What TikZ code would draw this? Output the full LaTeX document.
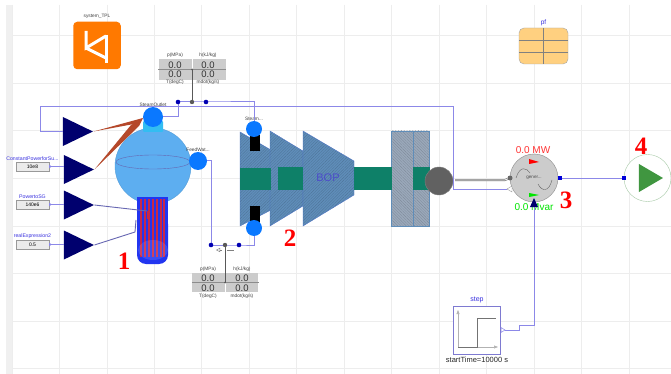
\documentclass[tikz,border=0pt]{standalone}
\usepackage{fontspec}
\setmainfont{Liberation Sans}
\newfontfamily\numfont{Liberation Serif}
\usepackage{xcolor}
\usetikzlibrary{arrows.meta, positioning, shapes.geometric, patterns.meta}
\definecolor{wirecol}{HTML}{8C88E8}
\definecolor{navycol}{HTML}{00006E}
\definecolor{portcol}{HTML}{0A78FF}
\definecolor{gridcol}{HTML}{EDEDED}
\definecolor{bladecol}{HTML}{5F8DB9}
\definecolor{shaftcol}{HTML}{0E8068}
\definecolor{corecol}{HTML}{2235F0}
\definecolor{rodcol}{HTML}{C82848}
\definecolor{steelcol}{HTML}{9AA8BA}
\definecolor{brickcol}{HTML}{B5482A}
\definecolor{labelcol}{HTML}{3A32E0}
\definecolor{drumcol}{HTML}{5DAEF0}
\definecolor{pfcol}{HTML}{FFD080}

\begin{document}
\begin{tikzpicture}[x=1pt, y=-1pt,
  wire/.style={wirecol, line width=1pt},
  sensorwire/.style={black!65, line width=0.8pt},
  driver/.style={isosceles triangle, isosceles triangle stretches, shape border rotate=0, fill=navycol, inner sep=0pt, minimum width=29pt, minimum height=30pt},
  port/.style={circle, fill=portcol, inner sep=0pt},
  srcbox/.style={draw=black!40, fill=black!8, inner sep=0pt, minimum width=33pt, minimum height=9.5pt, font=\fontsize{5}{5}\selectfont},
  srclabel/.style={text=labelcol, font=\fontsize{5.2}{5}\selectfont},
  tinylabel/.style={text=black!75, font=\fontsize{4.8}{5}\selectfont, inner sep=0pt},
  readout/.style={text=black!80, font=\fontsize{9.5}{9}\selectfont, inner sep=0pt},
  callout/.style={text=red, font=\numfont\bfseries\fontsize{25}{25}\selectfont, inner sep=0pt},
  blade/.style={draw=bladecol!80!blue, line width=0.3pt, preaction={fill=bladecol}, pattern={Lines[angle=45, distance=2pt, line width=0.25pt]}, pattern color=bladecol!80!black},
  housing/.style={draw=bladecol, line width=0.4pt, preaction={fill=steelcol}, pattern={Lines[angle=-45, distance=2pt, line width=0.25pt]}, pattern color=steelcol!80!black},
]
  \useasboundingbox (0,0) rectangle (671,374);
  \fill[white] (0,0) rectangle (671,374);
  \fill[black!6] (6,5) rectangle (12,374);
  \foreach \gx in {12,59.5,107,154,201,249,296,344,391,439,486,534,581,629}
    \draw[gridcol, line width=0.5pt] (\gx,5) -- (\gx,374);
  \foreach \gy in {35,83,130,178,226,273,321,368}
    \draw[gridcol, line width=0.5pt] (12,\gy) -- (671,\gy);

  % system and pf icons
  \node[fill=orange!95!red, rounded corners=4pt, minimum size=47.5pt, inner sep=0pt] (sysicon) at (97,45.5) {};
  \node[tinylabel, above=2.5pt of sysicon] (syslabel) {system\_TPL};
  \draw[white, line width=3pt] (86,31) -- (86,48) -- (106,36);
  \draw[white, line width=3pt] (86,48) -- (106,58);
  \draw[white, line width=3pt] (106,35) -- (106,63);

  \node[draw=black!35, fill=pfcol, rounded corners=5pt, minimum width=49pt, minimum height=36pt, inner sep=0pt] (pficon) at (543.5,46) {};
  \node[srclabel, above=1.5pt of pficon, font=\fontsize{6.5}{6}\selectfont, inner sep=0pt] (pflabel) {pf};
  \draw[black!50, line width=0.6pt] (pficon.north) -- (pficon.south);
  \draw[black!50, line width=0.6pt] (519,40.5) -- (568,40.5);
  \draw[black!50, line width=0.6pt] (519,52) -- (568,52);

  % wires behind the components
  \coordinate (tapa) at (178,102);
  \coordinate (tapb) at (192,102);
  \coordinate (tapc) at (206,102);
  \coordinate (tapd) at (211,245);
  \coordinate (tape) at (225,245);
  \coordinate (tapf) at (239,245);
  \coordinate (flange) at (507,189);

  % steam generator
  \node[circle, fill=drumcol, draw=drumcol!90!black, inner sep=0pt, minimum size=76pt] (drum) at (153,166) {};
  \fill[cyan!80!white, rounded corners=1pt] (143,121) rectangle (163,132);
  \draw[blue!50!black!60, line width=0.4pt] (153,162) ellipse (37pt and 7pt);
  \fill[corecol, rounded corners=9pt] (137,215) rectangle (168,264);
  \fill[corecol] (137,197) rectangle (168,235);
  \foreach \rx in {141,145,149,153,157,161,164}
    \draw[rodcol, line width=1.2pt] (\rx,199) -- (\rx,257);
  \fill[white, opacity=0.12] (153,250) ellipse (15pt and 10pt);

  \node[port, minimum size=20pt] (steamout) at (153,117) {};
  \node[port, minimum size=18pt] (feedin) at (198,161) {};
  \node[tinylabel, above=0.5pt of steamout] (steamoutlabel) {SteamOutlet};
  \node[tinylabel, above=0.5pt of feedin] (feedinlabel) {FeedWat...};

  % drivers and sources
  \node[driver] (drvA) at (72,131.5) {};
  \node[driver] (drvB) at (73,169.5) {};
  \node[driver] (drvC) at (73,205) {};
  \node[driver] (drvD) at (73,245) {};

  \fill[brickcol] (drvA.apex) -- (143,118) -- (134,124) -- cycle;
  \fill[brickcol] (drvB.apex) -- (131,125) -- (143,118) -- (139,126) -- cycle;
  \draw[black!50!blue!60, line width=0.9pt] (drvC.apex) -- (147,211);
  \draw[rodcol, line width=0.8pt] (147,211) -- (147,219);
  \draw[black!50!blue!60, line width=0.9pt] (drvD.apex) -- (135,232) -- (136,220);

  \node[srcbox] (srcB) at (32.5,166.5) {10e8};
  \node[srcbox] (srcC) at (32.5,204.5) {140e6};
  \node[srcbox] (srcD) at (32.5,244.5) {0.5};
  \node[srclabel, above=0.8pt of srcB, inner sep=0pt] (srcBlabel) {ConstantPowerforSu...};
  \node[srclabel, above=0.8pt of srcC, inner sep=0pt] (srcClabel) {PowertoSG};
  \node[srclabel, above=0.8pt of srcD, inner sep=0pt] (srcDlabel) {realExpression2};
  \foreach \s/\d in {srcB/drvB, srcC/drvC, srcD/drvD}
    \draw[wire, line width=0.7pt, {Triangle[open, reversed, length=3pt, width=3pt]}-] (\s.east) -- (\d.west |- \s.east);

  % turbine stages
  \draw[blade] (240,132) -- (271,150) -- (271,210) -- (240,226) -- cycle;
  \draw[blade] (270,131) -- (303,151) -- (303,206) -- (270,226) -- cycle;
  \draw[blade] (303,131) -- (354,161) -- (354,195) -- (303,226) -- cycle;
  \draw[housing] (391,131) rectangle (413,226);
  \draw[housing] (413,131) rectangle (429,226);
  \fill[shaftcol] (240,168) rectangle (271,190);
  \fill[shaftcol] (278,167) rectangle (303,190);
  \fill[shaftcol] (354,167) rectangle (392,190);
  \fill[shaftcol] (413,167) rectangle (430,190);
  \node[text=blue!70!black!70, font=\fontsize{11}{11}\selectfont, inner sep=0pt] (boplabel) at (328,178) {BOP};
  \node[circle, fill=black!62, draw=black!50, inner sep=0pt, minimum size=28pt] (shaftend) at (439,181) {};

  \fill[black] (250,135) rectangle (260,151);
  \fill[black] (250,206) rectangle (260,224);
  \node[port, minimum size=16pt] (hpin) at (254,129) {};
  \node[port, minimum size=16pt] (lpout) at (254,228) {};
  \node[tinylabel, above=0.5pt of hpin] (hpinlabel) {Steam...};

  % steam and feed lines
  \draw[wire] (steamout.east) -| (tapa);
  \draw[wire] (tapa) -- (tapc) -| (hpin.north);
  \draw[wire] (feedin.east) -| (tapd);
  \draw[wire] (tapd) -- (tapf) -| (lpout.south);
  \draw[wire] (drvA.west) -- (40,131.5) |- (453,107) |- (flange);

  % top sensor
  \node[fill=black!20, minimum width=33pt, minimum height=21pt, inner sep=0pt] (boxTL) at (175,69.5) {};
  \node[fill=black!20, minimum width=33pt, minimum height=21pt, inner sep=0pt, right=1pt of boxTL] (boxTR) {};
  \draw[black!45, line width=0.5pt] (boxTL.west) -- (boxTR.east);
  \coordinate (topjoint) at (192,69.5);
  \draw[sensorwire] (topjoint) -- (tapb);
  \foreach \tx/\ty/\ttxt in {175/65/0.0, 208/65/0.0, 175/74.5/0.0, 208/74.5/0.0}
    \node[readout] at (\tx,\ty) {\ttxt};
  \foreach \tx/\ty/\ttxt in {175/55.5/{p(MPa)}, 208/55.5/{h(kJ/kg)}, 175/82.5/{T(degC)}, 208/82.5/{mdot(kg/s)}}
    \node[tinylabel] at (\tx,\ty) {\ttxt};

  % lower sensor
  \node[fill=black!20, minimum width=32.5pt, minimum height=19pt, inner sep=0pt] (boxBL) at (208.25,282.5) {};
  \node[fill=black!20, minimum width=32.5pt, minimum height=19pt, inner sep=0pt, right=1pt of boxBL] (boxBR) {};
  \draw[black!45, line width=0.5pt] (boxBL.west) -- (boxBR.east);
  \coordinate (lowjoint) at (225,282.5);
  \draw[sensorwire] (lowjoint) -- (tape);
  \foreach \tx/\ty/\ttxt in {208/278/0.0, 242/278/0.0, 208/288/0.0, 242/288/0.0}
    \node[readout] at (\tx,\ty) {\ttxt};
  \foreach \tx/\ty/\ttxt in {208/269/{p(MPa)}, 242/269/{h(kJ/kg)}, 208/296/{T(degC)}, 242/296/{mdot(kg/s)}}
    \node[tinylabel] at (\tx,\ty) {\ttxt};
  \draw[black!50, line width=0.4pt, {Triangle[open, length=4pt, width=4pt]}-] (216,250) -- (222,250);
  \draw[black!50, line width=0.4pt] (227,250) -- (234,250);

  \foreach \t in {tapa,tapc,tapd,tapf}
    \fill[blue!70!black] (\t) circle (2.3pt);
  \foreach \t in {tapb,tape}
    \fill[black!65] (\t) circle (2.2pt);
  \fill[black!65] (topjoint) circle (1pt);
  \fill[black!65] (lowjoint) circle (1pt);

  % generator
  \node[circle, fill=black!20, draw=black!45, inner sep=0pt, minimum size=48pt] (gen) at (534,178) {};
  \node[text=black!70, font=\fontsize{4.6}{5}\selectfont, inner sep=0pt] (genlabel) at (534,178) {gener...};
  \draw[black!60, line width=0.4pt] (516,178) .. controls (520,165) and (527,168) .. (530,173);
  \draw[black!60, line width=0.4pt] (538,184) .. controls (542,192) and (549,192) .. (552,180);
  \fill[red] (529,159) -- (539,162) -- (529,164) -- cycle;
  \fill[green!90!black] (529,193) -- (539,195) -- (529,197) -- cycle;
  \node[text=red!80, font=\fontsize{10}{10}\selectfont, inner sep=0pt] (mwlabel) at (533,150) {0.0 MW};
  \node[text=green!90!black, font=\fontsize{10}{10}\selectfont, inner sep=0pt] (mvarlabel) at (534,207) {0.0 Mvar};
  \node[circle, fill=black!60, inner sep=0pt, minimum size=5pt] (genshaft) at (510,178) {};
  \draw[black!55, line width=0.6pt, double, double distance=0.8pt] (455,180) -- (505,180) -- (genshaft);
  \draw[black!40, line width=0.4pt, fill=white] (flange) -- ++(5,-3) -- ++(0,6) -- cycle;

  % grid connection
  \node[circle, draw=green!40!black!35, fill=white, inner sep=0pt, minimum size=47pt] (grid) at (647.5,178) {};
  \node[isosceles triangle, isosceles triangle stretches, fill=green!45!black!75, inner sep=0pt, minimum width=28pt, minimum height=24pt] (gridplay) at (647,178) {};
  \node[fill=blue!85!black, inner sep=0pt, minimum size=4.5pt] (genout) at (560,178) {};
  \node[fill=blue!85!black, inner sep=0pt, minimum size=4.5pt] (gridin) at (624,178) {};
  \draw[wire] (genout) -- (gridin);

  % step source
  \node[draw=wirecol!90!black, fill=white, line width=0.8pt, minimum size=47.5pt, inner sep=0pt] (stepbox) at (477,330.5) {};
  \node[srclabel, above=3pt of stepbox, font=\fontsize{7}{7}\selectfont, inner sep=0pt] (steplabel) {step};
  \node[below=2pt of stepbox, text=black!85, font=\fontsize{7.5}{7}\selectfont, inner sep=0pt] (startlabel) {startTime=10000 s};
  \draw[black!30, line width=0.6pt, -{Triangle[length=4pt, width=3pt]}] (458,347) -- (458,310);
  \draw[black!30, line width=0.6pt, -{Triangle[length=4pt, width=3pt]}] (458,347) -- (498,347);
  \draw[black!55, line width=0.8pt] (458,347) -- (477,347) -- (477,318) -- (496,318);
  \coordinate (stepout) at (505,330);
  \draw[wire] (stepout) -- (519,330) -- (519,325) -- (534,325) -- (534,205);
  \draw[wirecol, line width=0.5pt, fill=white] (501,327.5) -- (505,330) -- (501,332.5) -- cycle;
  \fill[navycol] (530,207) -- (534,198) -- (538,207) -- cycle;

  % callouts
  \node[callout] (callA) at (124,261) {1};
  \node[callout] (callB) at (290,238) {2};
  \node[callout] (callC) at (566,200) {3};
  \node[callout] (callD) at (641,146) {4};
\end{tikzpicture}
\end{document}
